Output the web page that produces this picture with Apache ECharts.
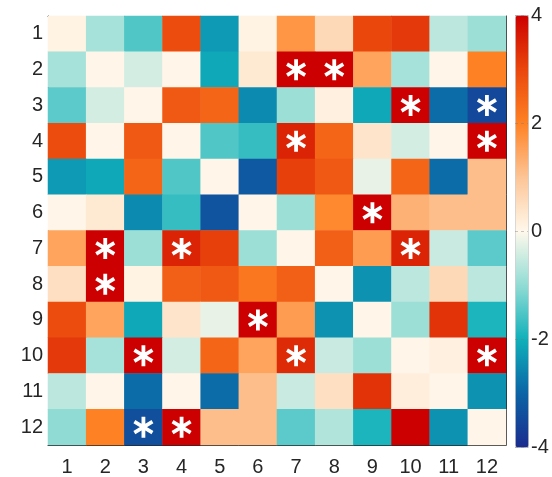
<!DOCTYPE html>
<html>
<head>
<meta charset="utf-8">
<script src="https://cdn.jsdelivr.net/npm/echarts@6/dist/echarts.min.js"></script>
<style>html,body{margin:0;padding:0;background:#fff;}#c{width:552px;height:477px;}</style>
</head>
<body>
<div id="c"></div>
<script>
const xLabels = ['1','2','3','4','5','6','7','8','9','10','11','12'];
const yLabels = ['1','2','3','4','5','6','7','8','9','10','11','12'];
const row01 = [0.1, -0.8, -1.5, 2.9, -2.3, 0.1, 1.7, 0.6, 3.0, 3.2, -0.6, -0.9];
const row02 = [-0.8, 0.05, -0.4, 0.05, -2.1, 0.3, 4, 4, 1.5, -0.8, 0.05, 2.0];
const row03 = [-1.4, -0.4, 0.05, 2.7, 2.5, -2.5, -0.9, 0.15, -2.1, 4, -2.9, -3.5];
const row04 = [2.9, 0.05, 2.7, 0.05, -1.5, -1.7, 3.5, 2.5, 0.4, -0.4, 0.05, 4];
const row05 = [-2.3, -2.1, 2.5, -1.5, 0.05, -3.2, 3.1, 2.7, -0.2, 2.5, -2.9, 1.1];
const row06 = [0.05, 0.3, -2.5, -1.7, -3.3, 0.05, -0.9, 1.9, 4, 1.3, 1.1, 1.1];
const row07 = [1.5, 4, -0.9, 3.5, 3.1, -0.9, 0.05, 2.6, 1.6, 3.5, -0.5, -1.4];
const row08 = [0.5, 4, 0.1, 2.6, 2.7, 2.2, 2.6, 0.05, -2.4, -0.6, 0.6, -0.6];
const row09 = [2.9, 1.5, -2.1, 0.4, -0.2, 4, 1.6, -2.4, 0.05, -0.9, 3.3, -1.9];
const row10 = [3.2, -0.8, 4, -0.4, 2.5, 1.5, 3.4, -0.5, -0.9, 0.05, 0.15, 4];
const row11 = [-0.6, 0.05, -2.9, 0.05, -2.9, 1.1, -0.5, 0.5, 3.3, 0.2, 0.05, -2.4];
const row12 = [-1.0, 2.0, -3.4, 4, 1.1, 1.1, -1.4, -0.7, -1.9, 4, -2.4, 0.05];
// asterisk cells: [column, row] (1-based)
const stars = [[7,2],[8,2],[10,3],[12,3],[7,4],[12,4],[9,6],[2,7],[4,7],[10,7],[2,8],[6,9],[3,10],[7,10],[12,10],[3,12],[4,12]];
const cbTicks = [-4, -2, 0, 2, 4];

const rows = [row01,row02,row03,row04,row05,row06,row07,row08,row09,row10,row11,row12];
const heat = [];
rows.forEach((r, yi) => r.forEach((v, xi) => heat.push([xi, yi, v])));
const starData = stars.map(s => [s[0]-1, s[1]-1]);

const starPath = 'path://M41 0L59 0L59 100L41 100Z M88.3 16.4L97.3 32.0L11.7 83.6L2.7 68.0Z M97.3 68.0L88.3 83.6L2.7 32.0L11.7 16.4Z';
const txt = '#262626';
const font = 'Liberation Sans';

const chart = echarts.init(document.getElementById('c'));
chart.setOption({
  animation: false,
  textStyle: { fontFamily: font },
  grid: [
    { left: 48, top: 16, width: 458, height: 431 },
    { left: 515, top: 15, width: 13, height: 432 }
  ],
  xAxis: [
    { type: 'category', data: xLabels, gridIndex: 0, position: 'bottom',
      axisLine: { show: true, lineStyle: { color: txt, width: 1 } },
      axisTick: { show: true, inside: true, alignWithLabel: true, length: 4, lineStyle: { color: txt } },
      axisLabel: { color: txt, fontSize: 20, margin: 12, fontFamily: font },
      splitLine: { show: false } },
    { type: 'category', data: xLabels, gridIndex: 0, position: 'top',
      axisLine: { show: true, lineStyle: { color: txt, width: 1 } },
      axisTick: { show: true, inside: true, alignWithLabel: true, length: 4, lineStyle: { color: txt } },
      axisLabel: { show: false } },
    { type: 'category', data: [''], gridIndex: 1, show: false }
  ],
  yAxis: [
    { type: 'category', data: yLabels, gridIndex: 0, inverse: true, position: 'left',
      axisLine: { show: true, lineStyle: { color: txt, width: 1 } },
      axisTick: { show: true, inside: true, alignWithLabel: true, length: 4, lineStyle: { color: txt } },
      axisLabel: { color: txt, fontSize: 20, margin: 5, fontFamily: font } },
    { type: 'category', data: yLabels, gridIndex: 0, inverse: true, position: 'right',
      axisLine: { show: true, lineStyle: { color: txt, width: 1 } },
      axisTick: { show: true, inside: true, alignWithLabel: true, length: 4, lineStyle: { color: txt } },
      axisLabel: { show: false } },
    { type: 'value', gridIndex: 1, min: -4, max: 4, interval: 2, position: 'right', z: 10,
      axisLine: { show: false }, axisTick: { show: false },
      axisLabel: { color: txt, fontSize: 20, margin: 3, fontFamily: font,
        formatter: v => cbTicks.indexOf(v) >= 0 ? String(v) : '' },
      splitLine: { show: true, lineStyle: { color: 'rgba(120,120,120,0.4)', type: [3, 3], width: 1 } } }
  ],
  visualMap: {
    type: 'continuous', min: -4, max: 4, seriesIndex: 0,
    orient: 'vertical', left: 515, top: 15, itemWidth: 13, itemHeight: 432,
    padding: 0, calculable: false, realtime: false, hoverLink: false,
    borderColor: '#cfcfcf', borderWidth: 1,
    inRange: { color: ['#1b2c8e','#0b64a6','#0fb0ba','#90dcd4','#fff8ec','#fdc596','#fe8224','#ea470c','#cc0000'] },
    textStyle: { color: 'transparent' }
  },
  series: [
    { type: 'heatmap', xAxisIndex: 0, yAxisIndex: 0, data: heat, itemStyle: { borderWidth: 0 }, silent: true },
    { type: 'scatter', xAxisIndex: 0, yAxisIndex: 0, data: starData, symbol: starPath,
      symbolSize: [20, 21], itemStyle: { color: '#ffffff', opacity: 1 }, silent: true, z: 5 },
    { type: 'scatter', xAxisIndex: 2, yAxisIndex: 2, data: [], silent: true }
  ]
});
</script>
</body>
</html>
